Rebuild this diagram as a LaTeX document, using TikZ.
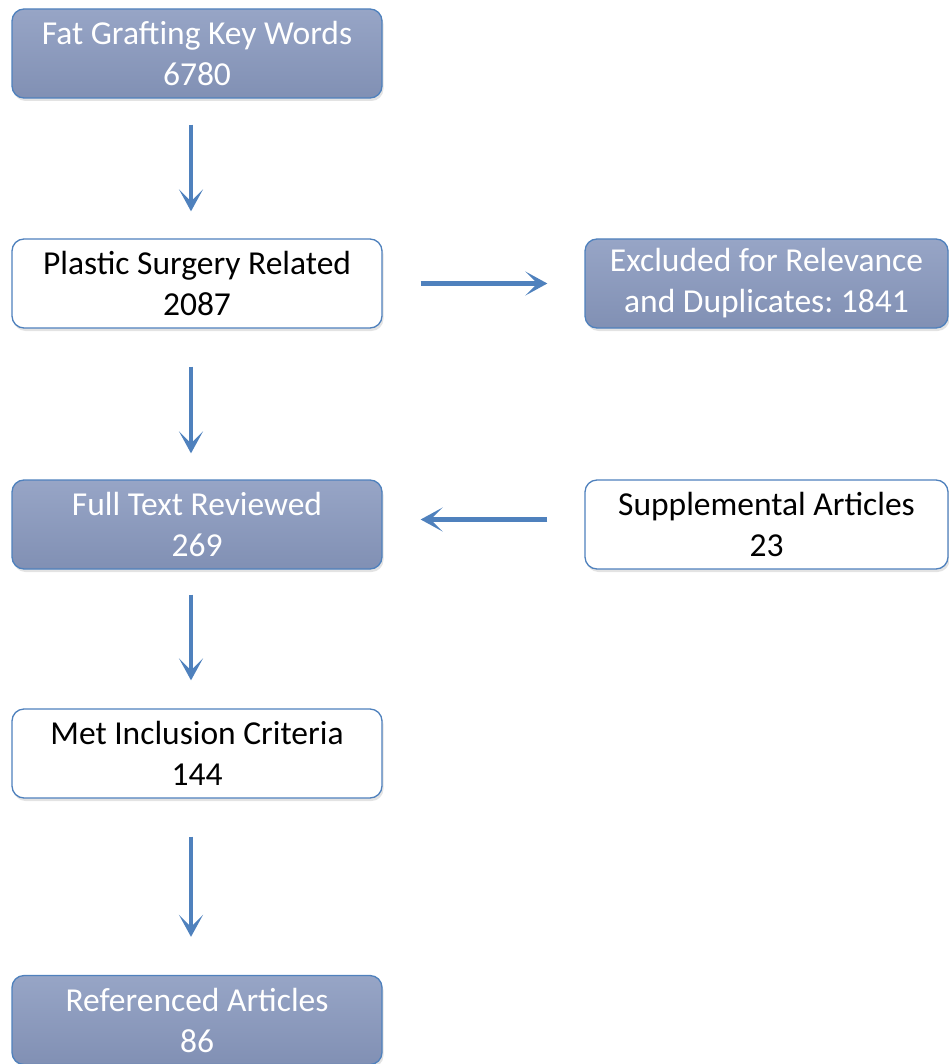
\documentclass[tikz,border=0pt]{standalone}
\usepackage{fontspec}
\setmainfont{Carlito}
\frenchspacing
\usetikzlibrary{arrows.meta,shadows}
\definecolor{pFlowBlue}{HTML}{4F81BD}
\definecolor{pShadeTop}{HTML}{97A5C6}
\definecolor{pShadeBot}{HTML}{8190B4}

\begin{document}
\begin{tikzpicture}[x=1pt,y=-1pt,
  box/.style={rounded corners=12pt, draw=pFlowBlue, line width=1.3pt, minimum width=370pt, minimum height=89pt,
    align=center, inner sep=0pt, font={\fontsize{33.5}{41}\selectfont},
    drop shadow={opacity=0.22, shadow xshift=1.5pt, shadow yshift=-3pt}},
  shadedbox/.style={box, top color=pShadeTop, bottom color=pShadeBot, text=white},
  plainbox/.style={box, fill=white, text=black},
  flow/.style={draw=pFlowBlue, line width=4.5pt, -{Stealth[length=22pt,width=24pt,inset=12pt]}}]
\useasboundingbox (0,0) rectangle (949,1064);
% left column
\node[shadedbox] (fatwords) at (197,53.5) {Fat Grafting Key Words\\6780};
\node[plainbox] (plastic) at (197,283.5) {Plastic Surgery Related\\2087};
\node[shadedbox] (fulltext) at (197,524.5) {Full Text Reviewed\\269};
\node[plainbox] (inclusion) at (197,753.5) {Met Inclusion Criteria\\144};
\node[shadedbox] (referenced) at (197,1020) {Referenced Articles\\86};
% right column
\node[shadedbox, minimum width=363pt] (excluded) at (766.5,283.5) {Excluded for Relevance\\and Duplicates: 1841};
\node[plainbox, minimum width=363pt] (supplemental) at (766.5,524.5) {Supplemental Articles\\23};
% arrows
\draw[flow, shorten <=26pt, shorten >=27pt] ([xshift=-6pt]fatwords.south) -- ([xshift=-6pt]plastic.north);
\draw[flow, shorten <=38pt, shorten >=26pt] ([xshift=-6pt]plastic.south) -- ([xshift=-6pt]fulltext.north);
\draw[flow, shorten <=25pt, shorten >=28pt] ([xshift=-6pt]fulltext.south) -- ([xshift=-6pt]inclusion.north);
\draw[flow, shorten <=38pt, shorten >=38pt] ([xshift=-6pt]inclusion.south) -- ([xshift=-6pt]referenced.north);
\draw[flow, shorten <=38pt, shorten >=37pt] (plastic.east) -- (excluded.west);
\draw[flow, shorten <=37pt, shorten >=38pt] ([yshift=5pt]supplemental.west) -- ([yshift=5pt]fulltext.east);
\end{tikzpicture}
\end{document}
